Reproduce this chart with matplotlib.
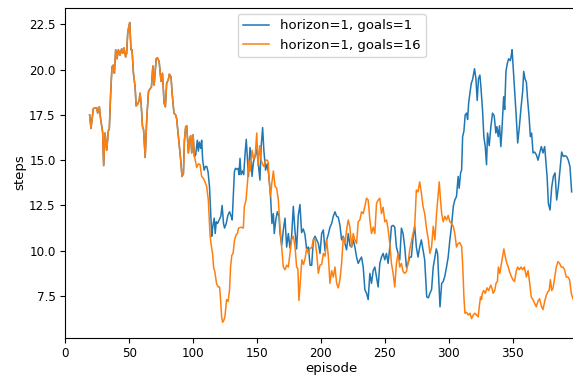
import numpy as np
import matplotlib
matplotlib.use("Agg")
import matplotlib.pyplot as plt

# (episode, steps); both runs overlap until ~episode 101
shared_pts = [
    (19.0, 17.5), (20.1, 16.75), (21.9, 17.85), (24.5, 17.9), (25.3, 17.6), (26.6, 17.95),
    (27.6, 17.3), (29.2, 16.55), (30.0, 14.7), (31.1, 16.5), (32.4, 15.55), (33.7, 16.65),
    (34.4, 16.7), (35.5, 18.7), (36.5, 20.15), (37.6, 20.25), (38.4, 19.8), (39.4, 21.1),
    (40.5, 20.6), (41.5, 21.1), (42.8, 20.8), (44.1, 21.15), (44.9, 20.9), (45.9, 21.2),
    (47.2, 20.7), (48.0, 20.9), (48.8, 22.0), (49.6, 22.35), (50.4, 22.6), (51.4, 21.1),
    (52.2, 21.1), (53.3, 19.8), (54.6, 19.05), (55.4, 18.0), (56.7, 18.1), (57.8, 18.3),
    (58.5, 18.7), (59.3, 18.15), (60.4, 16.85), (61.2, 16.7), (62.5, 15.15), (63.8, 17.4),
    (65.1, 18.8), (66.4, 18.95), (67.4, 19.05), (68.5, 20.2), (69.5, 19.15), (71.1, 20.6),
    (72.1, 20.65), (73.4, 20.45), (74.9, 19.35), (76.0, 19.8), (77.3, 18.15), (78.3, 17.95),
    (79.3, 19.25), (80.6, 19.45), (81.4, 19.75), (82.7, 19.6), (83.7, 18.6), (85.0, 17.6),
    (86.3, 17.5), (87.1, 17.3), (88.2, 16.5), (89.2, 15.75), (90.3, 15.0), (91.3, 14.1),
    (92.4, 14.25), (93.2, 16.1), (94.2, 16.85), (95.0, 16.9), (96.3, 15.4), (97.1, 16.1),
    (98.1, 16.35), (98.9, 15.4), (100.0, 16.4), (101.0, 15.2),
]

goals1_pts = [
    (102.0, 15.3), (103.3, 16.1), (104.1, 15.5), (104.9, 16.0), (105.9, 15.65), (106.7, 16.1),
    (107.5, 15.0), (108.6, 14.45), (109.6, 14.65), (110.7, 14.65), (111.7, 14.35), (112.8, 13.55),
    (113.8, 12.05), (114.6, 10.8), (115.4, 11.35), (116.5, 11.8), (117.3, 10.95), (118.1, 11.6),
    (119.1, 11.5), (120.4, 11.7), (121.7, 11.9), (122.7, 12.5), (123.8, 11.5), (124.6, 11.25),
    (125.9, 11.5), (127.2, 11.95), (128.5, 12.15), (129.8, 11.9), (130.6, 11.7), (131.5, 13.15),
    (132.3, 14.35), (133.1, 14.55), (134.1, 14.5), (135.2, 14.55), (135.9, 14.2), (136.7, 15.1),
    (137.5, 14.2), (138.6, 14.4), (139.6, 14.2), (140.7, 15.4), (141.6, 16.15), (142.5, 15.1),
    (143.3, 14.1), (144.5, 15.7), (145.4, 15.1), (146.1, 14.1), (147.2, 14.9), (148.4, 15.2),
    (149.7, 15.6), (150.9, 14.9), (152.3, 13.9), (153.2, 15.7), (154.4, 16.8), (155.4, 15.5),
    (156.7, 14.45), (158.0, 14.8), (159.3, 14.1), (160.6, 13.0), (161.7, 11.5), (162.8, 12.05),
    (163.5, 10.95), (164.8, 11.75), (165.9, 12.15), (167.2, 11.9), (168.0, 11.0), (169.3, 10.3),
    (170.6, 11.15), (171.9, 11.8), (173.2, 10.2), (174.5, 10.95), (175.8, 10.15), (177.1, 10.8),
    (178.4, 12.45), (179.7, 11.1), (181.0, 10.1), (182.3, 11.95), (183.6, 12.55), (184.9, 11.0),
    (186.2, 11.2), (187.5, 10.9), (188.8, 10.1), (190.2, 10.2), (191.5, 9.2), (192.8, 9.2),
    (194.1, 10.6), (195.4, 10.8), (196.7, 10.6), (198.0, 10.4), (199.3, 9.85), (200.6, 10.95),
    (201.9, 11.15), (203.2, 10.0), (204.5, 10.6), (205.8, 10.9), (207.1, 11.3), (208.4, 11.5),
    (209.7, 11.9), (211.0, 12.15), (212.3, 11.9), (213.6, 11.85), (214.9, 11.4), (216.2, 10.6),
    (217.5, 10.8), (218.8, 10.4), (220.1, 10.05), (221.4, 10.95), (222.7, 10.3), (224.0, 10.2),
    (225.3, 10.6), (226.6, 10.2), (227.9, 9.65), (229.2, 9.3), (230.5, 9.5), (231.8, 9.65),
    (233.1, 9.1), (234.4, 7.85), (235.7, 7.65), (237.0, 7.3), (238.3, 8.75), (239.6, 8.2),
    (240.9, 8.9), (242.2, 9.1), (243.5, 8.55), (244.8, 8.0), (246.1, 9.3), (247.4, 9.65),
    (248.7, 9.85), (250.0, 9.5), (251.3, 9.85), (252.6, 9.3), (253.9, 10.2), (255.2, 11.35),
    (256.5, 11.4), (257.8, 11.3), (259.1, 10.2), (260.4, 9.85), (261.7, 9.5), (263.0, 11.25),
    (264.3, 10.95), (265.6, 10.2), (266.9, 9.1), (268.2, 9.3), (269.5, 9.65), (270.8, 9.65),
    (272.1, 10.75), (273.4, 11.35), (274.7, 10.2), (276.0, 9.65), (277.3, 10.2), (278.6, 10.6),
    (279.9, 10.05), (281.2, 9.5), (282.8, 7.45), (284.1, 7.4), (285.3, 7.65), (286.6, 7.85),
    (287.9, 9.1), (289.2, 9.65), (290.3, 10.1), (291.3, 9.85), (293.2, 6.9), (294.5, 8.2),
    (295.7, 8.3), (297.0, 8.6), (298.3, 9.1), (299.6, 9.65), (300.9, 10.6), (302.2, 11.35),
    (303.6, 12.45), (304.8, 12.8), (306.1, 13.0), (307.4, 14.1), (308.2, 13.45), (309.3, 14.3),
    (310.1, 14.45), (310.9, 16.3), (311.9, 16.6), (312.9, 17.5), (314.0, 17.6), (314.8, 17.25),
    (315.6, 18.15), (316.6, 18.7), (317.7, 19.25), (318.7, 19.45), (320.2, 20.05), (321.3, 19.5),
    (322.3, 18.3), (323.3, 19.5), (324.4, 19.7), (325.2, 19.05), (326.5, 17.75), (327.5, 16.3),
    (328.6, 15.75), (329.6, 14.75), (330.4, 16.5), (331.7, 15.8), (333.0, 16.85), (334.3, 17.6),
    (335.6, 17.45), (336.9, 16.5), (337.7, 16.85), (338.8, 16.3), (339.8, 16.9), (340.8, 15.75),
    (341.6, 16.6), (343.0, 18.5), (343.8, 17.8), (344.8, 19.9), (345.9, 20.35), (346.9, 20.6),
    (348.2, 20.5), (348.8, 20.7), (349.6, 21.1), (350.6, 20.0), (351.6, 18.9), (352.7, 17.6),
    (354.0, 15.95), (355.3, 16.85), (356.6, 17.9), (357.9, 18.8), (358.7, 19.9), (359.7, 19.5),
    (360.8, 19.3), (361.8, 18.3), (362.9, 17.4), (363.9, 16.3), (364.9, 16.5), (366.0, 15.4),
    (367.2, 15.45), (368.6, 15.3), (369.9, 15.0), (371.2, 15.4), (372.5, 15.75), (373.8, 15.4),
    (375.1, 15.75), (376.0, 15.0), (377.0, 14.1), (378.0, 12.6), (379.3, 12.25), (380.6, 13.5),
    (381.9, 14.1), (383.2, 14.3), (384.5, 12.8), (385.8, 13.5), (387.1, 14.45), (388.4, 15.45),
    (389.7, 15.2), (391.0, 15.25), (392.3, 15.2), (393.6, 15.0), (394.9, 14.65), (396.2, 13.25),
]

goals16_pts = [
    (102.0, 14.9), (102.8, 14.6), (104.1, 14.8), (105.4, 14.75), (106.7, 14.1), (108.0, 14.0),
    (109.3, 13.8), (110.6, 13.55), (111.9, 12.8), (113.2, 10.9), (114.0, 10.4), (115.2, 9.85),
    (116.0, 9.1), (117.1, 8.8), (118.3, 8.2), (119.5, 8.0), (120.7, 8.0), (121.5, 7.3),
    (122.3, 6.35), (123.1, 6.05), (124.0, 6.15), (124.9, 6.35), (126.2, 7.3), (127.4, 7.2),
    (128.5, 7.85), (129.3, 9.1), (130.3, 9.75), (131.3, 9.85), (132.4, 10.6), (133.5, 10.85),
    (134.6, 10.95), (135.6, 11.25), (137.5, 11.3), (139.3, 11.25), (140.1, 12.45), (141.4, 12.8),
    (142.7, 13.9), (143.5, 15.0), (144.8, 14.4), (146.1, 15.55), (147.4, 15.05), (148.6, 15.3),
    (149.8, 16.5), (150.8, 14.7), (152.1, 15.8), (153.1, 15.05), (154.1, 14.8), (155.4, 14.65),
    (156.7, 15.0), (158.0, 15.0), (158.8, 14.9), (159.3, 14.1), (160.6, 13.0), (161.7, 13.8),
    (162.8, 14.4), (164.1, 13.55), (165.4, 13.45), (166.7, 12.8), (168.0, 11.3), (169.3, 10.2),
    (170.6, 9.1), (171.9, 8.95), (173.2, 9.2), (174.5, 9.1), (175.8, 9.85), (177.1, 10.6),
    (178.4, 10.8), (179.7, 10.25), (181.0, 9.1), (182.0, 9.0), (182.8, 7.25), (183.8, 8.2),
    (185.1, 9.5), (186.4, 9.25), (187.6, 9.55), (188.8, 10.1), (190.2, 9.85), (191.5, 10.15),
    (192.8, 10.15), (194.1, 10.6), (195.4, 10.65), (196.7, 9.85), (198.0, 8.75), (199.3, 9.2),
    (200.6, 9.25), (201.9, 9.85), (203.2, 9.7), (204.5, 10.6), (205.8, 9.7), (207.1, 8.2),
    (208.4, 8.9), (209.7, 8.55), (211.0, 9.1), (212.3, 8.2), (213.6, 7.95), (214.9, 8.4),
    (216.2, 9.3), (217.5, 10.75), (218.8, 10.4), (220.1, 11.15), (221.4, 11.7), (222.7, 11.3),
    (224.0, 10.2), (225.3, 10.95), (226.6, 10.6), (227.9, 10.4), (229.2, 11.6), (230.5, 11.7),
    (231.8, 12.15), (233.1, 12.05), (234.4, 12.45), (235.7, 12.9), (237.0, 12.8), (238.3, 11.7),
    (239.6, 10.95), (240.9, 11.3), (242.2, 10.95), (243.5, 12.6), (244.8, 12.8), (246.1, 12.9),
    (247.4, 12.05), (248.7, 12.4), (250.0, 11.6), (251.3, 11.7), (252.6, 11.2), (253.9, 10.4),
    (255.2, 9.3), (256.5, 8.75), (257.8, 8.0), (259.1, 9.3), (260.4, 9.85), (261.7, 9.1),
    (263.0, 9.3), (264.3, 8.85), (265.6, 8.75), (266.9, 8.85), (268.2, 9.3), (269.5, 10.05),
    (270.8, 10.5), (272.1, 10.95), (273.4, 11.35), (274.7, 13.35), (276.0, 13.25), (277.3, 13.8),
    (278.6, 13.2), (279.9, 12.45), (281.2, 12.05), (282.8, 11.15), (284.1, 10.6), (285.3, 9.85),
    (286.6, 10.2), (287.9, 11.35), (289.2, 10.6), (290.5, 12.05), (291.8, 13.15), (292.6, 13.8),
    (293.6, 12.8), (294.5, 12.05), (295.7, 11.6), (297.0, 11.9), (298.3, 11.7), (299.6, 11.95),
    (300.9, 11.6), (302.2, 11.5), (303.6, 11.35), (304.8, 10.95), (306.1, 10.2), (307.4, 10.4),
    (308.6, 10.45), (310.1, 10.25), (310.9, 9.3), (311.9, 7.45), (312.7, 6.55), (314.0, 6.6),
    (315.3, 6.45), (316.6, 6.55), (317.9, 6.25), (319.2, 6.45), (320.5, 6.55), (321.8, 6.45),
    (323.1, 6.35), (323.9, 6.9), (324.9, 7.45), (325.7, 7.3), (326.3, 7.65), (327.4, 7.8),
    (328.6, 7.65), (330.0, 7.95), (331.3, 7.8), (332.9, 8.1), (334.0, 7.9), (334.8, 7.65),
    (336.0, 7.8), (337.0, 8.2), (338.1, 8.3), (338.9, 9.1), (340.0, 8.75), (340.8, 9.1),
    (342.1, 9.65), (343.2, 10.1), (344.3, 9.65), (345.5, 9.3), (346.6, 9.1), (347.6, 8.85),
    (348.9, 8.6), (350.2, 8.4), (351.5, 8.3), (352.8, 8.85), (354.0, 9.1), (355.3, 8.95),
    (356.6, 9.1), (357.9, 8.95), (359.2, 9.1), (360.8, 8.55), (362.1, 8.9), (363.4, 8.2),
    (364.6, 7.45), (365.9, 7.3), (367.2, 7.1), (368.5, 6.9), (369.8, 7.2), (371.1, 7.35),
    (372.5, 6.95), (373.8, 6.75), (375.1, 7.2), (376.4, 7.55), (377.7, 7.75), (378.6, 7.8),
    (379.6, 8.4), (380.6, 7.8), (381.7, 7.95), (382.9, 8.5), (384.2, 9.1), (385.5, 9.4),
    (386.8, 9.3), (388.1, 9.1), (389.4, 9.1), (390.7, 8.95), (392.0, 8.55), (393.3, 8.55),
    (394.6, 8.4), (395.9, 7.65), (397.2, 7.35),
]

labels = ["horizon=1, goals=1", "horizon=1, goals=16"]

g1 = np.array(shared_pts + goals1_pts)
g16 = np.array(shared_pts + goals16_pts)

fig = plt.figure(figsize=(5.73, 3.76), dpi=100)
# axes runs past the right edge of the picture, like the cropped original
ax = fig.add_axes([0.114, 0.102, 0.930, 0.878])

ax.plot(g1[:, 0], g1[:, 1], color="#1f77b4", lw=1.1, label=labels[0])
ax.plot(g16[:, 0], g16[:, 1], color="#ff7f0e", lw=1.1, label=labels[1])

ax.set_xlim(0, 417)
ax.set_ylim(5.2, 23.43)
ax.set_xticks([0, 50, 100, 150, 200, 250, 300, 350])
ax.tick_params(labelsize=8.6)
ax.set_xlabel("episode", fontsize=9.5, labelpad=1)
ax.set_ylabel("steps", fontsize=9.5, labelpad=2)
ax.legend(loc="upper center", fontsize=9.5)

fig.savefig("out.png", dpi=100)
